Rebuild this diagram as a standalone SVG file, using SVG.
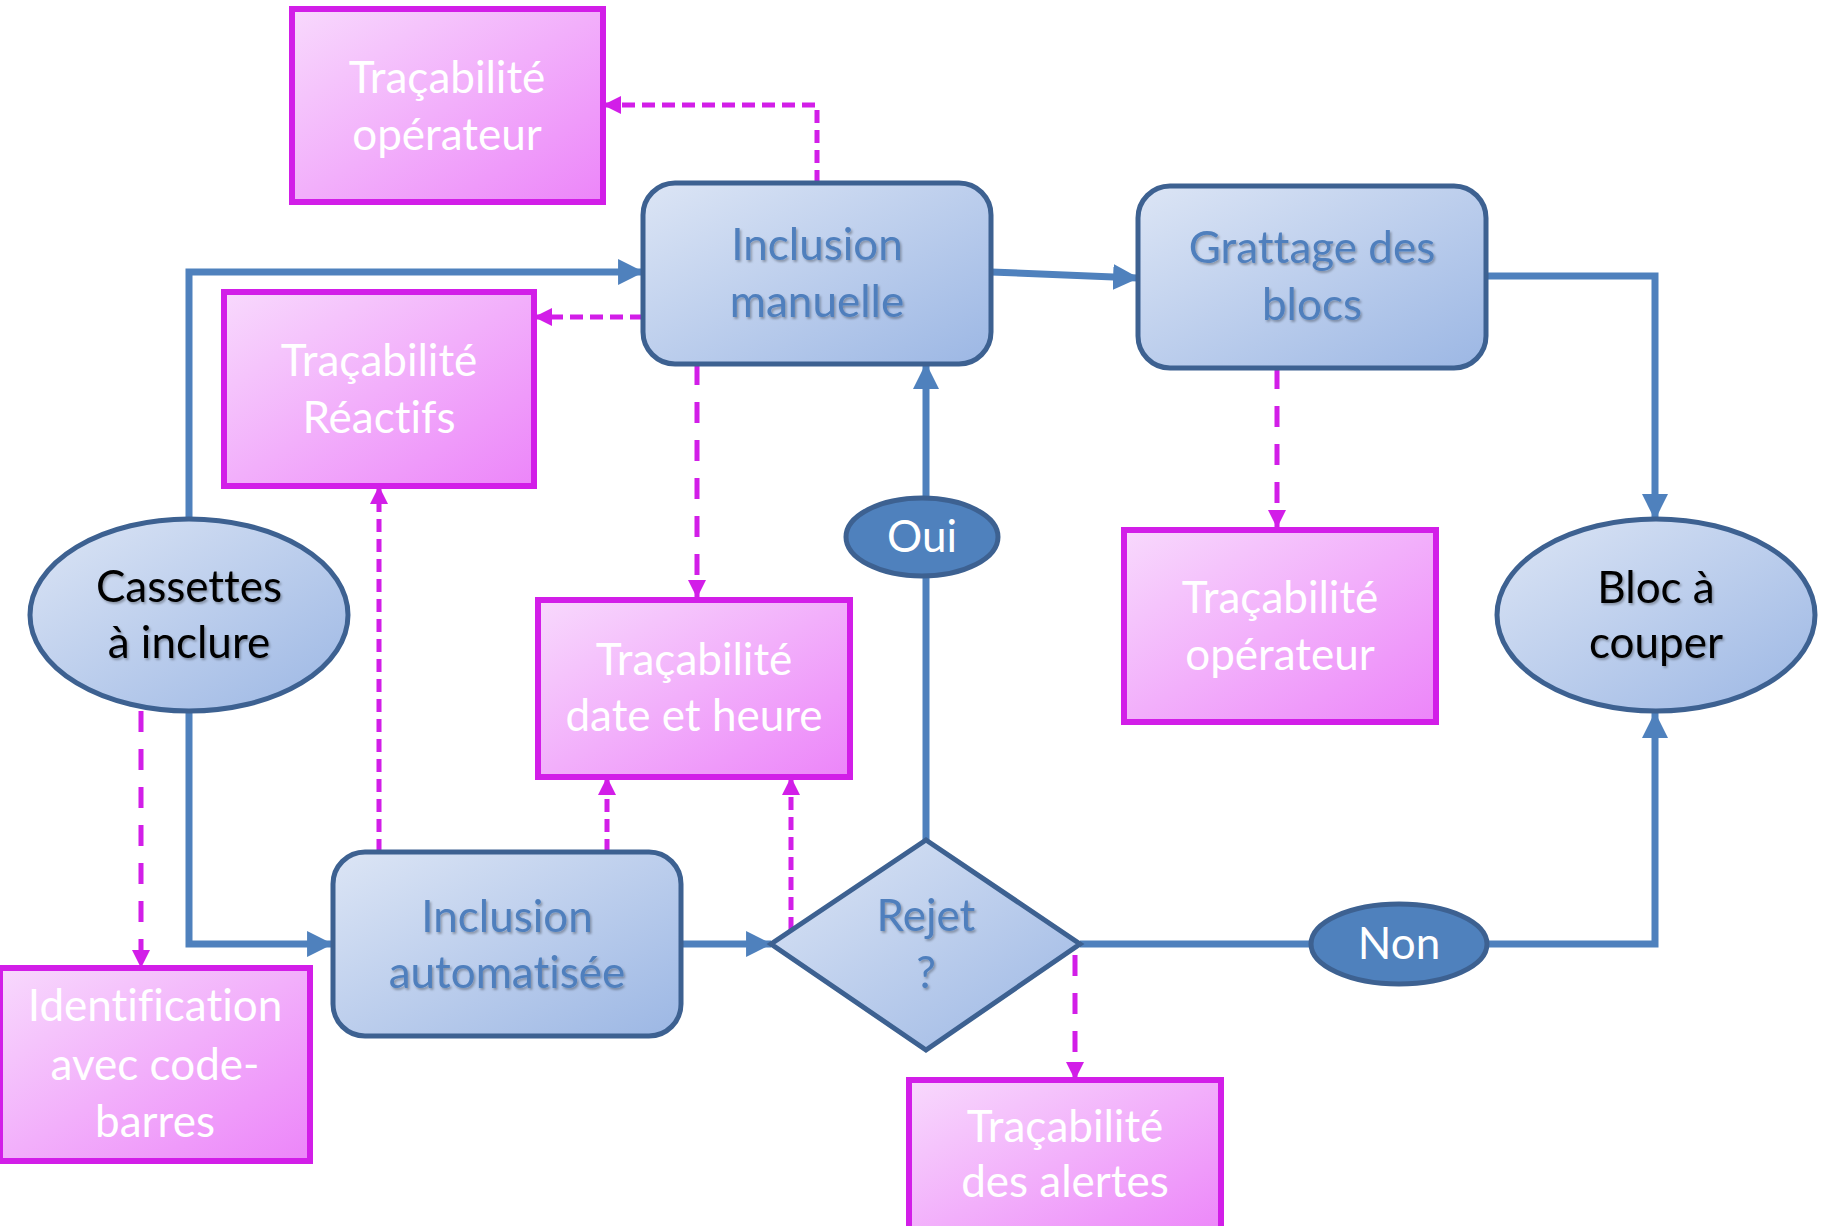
<svg xmlns="http://www.w3.org/2000/svg" width="1825" height="1226" viewBox="0 0 1825 1226">
<defs>
  <linearGradient id="gBlue" x1="0" y1="0" x2="1" y2="1">
    <stop offset="0" stop-color="#dce5f5"/>
    <stop offset="1" stop-color="#9cb7e4"/>
  </linearGradient>
  <linearGradient id="gPink" x1="0" y1="0" x2="1" y2="1">
    <stop offset="0" stop-color="#f8d9fd"/>
    <stop offset="1" stop-color="#ec85f9"/>
  </linearGradient>
  <filter id="tsh" x="-10%" y="-20%" width="120%" height="150%">
    <feDropShadow dx="1.5" dy="2" stdDeviation="1.2" flood-color="#000" flood-opacity="0.3"/>
  </filter>
  <marker id="aBlue" markerUnits="userSpaceOnUse" markerWidth="26" markerHeight="26" refX="23" refY="12" orient="auto" viewBox="0 0 24 24">
    <path d="M0,0 L24,12 L0,24 Z" fill="#4f81bd"/>
  </marker>
  <marker id="aPink" markerUnits="userSpaceOnUse" markerWidth="18" markerHeight="18" refX="16" refY="8" orient="auto" viewBox="0 0 16 16">
    <path d="M0,0 L16,8 L0,16 Z" fill="#d21ee8"/>
  </marker>
</defs>
<style>
  .blue { fill: url(#gBlue); stroke: #3d6191; stroke-width: 5; }
  .pink { fill: url(#gPink); stroke: #d21ee8; stroke-width: 6; }
  .lbl { fill: #4f81bd; stroke: #3d6191; stroke-width: 5; }
  .flow { fill: none; stroke: #4f81bd; stroke-width: 7; marker-end: url(#aBlue); }
  .dash { fill: none; stroke: #d21ee8; stroke-width: 5; stroke-dasharray: 13 7; marker-end: url(#aPink); }
  .ldash { fill: none; stroke: #d21ee8; stroke-width: 5; stroke-dasharray: 21 17; marker-end: url(#aPink); }
  text { font-family: Lato, "Open Sans", "Liberation Sans", sans-serif; font-size: 44px; text-anchor: middle; font-variant-ligatures: none; }
  .tw { fill: #ffffff; }
  .tb { fill: #4f7fbd; filter: url(#tsh); }
  .tk { fill: #000000; filter: url(#tsh); }
</style>

<g id="connectors">
  <path class="flow" d="M189,519 V272 H643"/>
  <path class="flow" d="M991,272 L1138,278"/>
  <path class="flow" d="M1486,276 H1655 V519"/>
  <path class="flow" d="M189,711 V944 H332"/>
  <path class="flow" d="M681,944 H771"/>
  <path class="flow" d="M926,840 V364"/>
  <path class="flow" d="M1080,944 H1655 V713"/>
  <path class="dash" d="M817,183 V105 H603"/>
  <path class="dash" d="M643,317 H534"/>
  <path class="ldash" d="M697,364 V598"/>
  <path class="dash" d="M379,852 V486"/>
  <path class="dash" d="M607,852 V777"/>
  <path class="dash" d="M791,930 V777"/>
  <path class="ldash" d="M1277,368 V528"/>
  <path class="ldash" d="M141,711 V968"/>
  <path class="ldash" d="M1075,955 V1080"/>
</g>

<g id="trac-operateur-1">
  <rect class="pink" x="292" y="9" width="311" height="193"/>
  <text class="tw" x="447" y="93">Traçabilité</text>
  <text class="tw" x="447" y="150">opérateur</text>
</g>
<g id="trac-reactifs">
  <rect class="pink" x="224" y="292" width="310" height="194"/>
  <text class="tw" x="379" y="376">Traçabilité</text>
  <text class="tw" x="379" y="433">Réactifs</text>
</g>
<g id="inclusion-manuelle">
  <rect class="blue" x="643" y="183" width="348" height="181" rx="32" ry="32"/>
  <text class="tb" x="817" y="260">Inclusion</text>
  <text class="tb" x="817" y="317">manuelle</text>
</g>
<g id="grattage">
  <rect class="blue" x="1138" y="186" width="348" height="182" rx="32" ry="32"/>
  <text class="tb" x="1312" y="263">Grattage des</text>
  <text class="tb" x="1312" y="320">blocs</text>
</g>
<g id="trac-date">
  <rect class="pink" x="538" y="600" width="312" height="177"/>
  <text class="tw" x="694" y="675">Traçabilité</text>
  <text class="tw" x="694" y="731">date et heure</text>
</g>
<g id="trac-operateur-2">
  <rect class="pink" x="1124" y="530" width="312" height="192"/>
  <text class="tw" x="1280" y="613">Traçabilité</text>
  <text class="tw" x="1280" y="670">opérateur</text>
</g>
<g id="cassettes">
  <ellipse class="blue" cx="189" cy="615" rx="159" ry="96"/>
  <text class="tk" x="189" y="602">Cassettes</text>
  <text class="tk" x="189" y="658">à inclure</text>
</g>
<g id="bloc-a-couper">
  <ellipse class="blue" cx="1656" cy="615" rx="159" ry="96"/>
  <text class="tk" x="1656" y="603">Bloc à</text>
  <text class="tk" x="1656" y="658">couper</text>
</g>
<g id="oui">
  <ellipse class="lbl" cx="922" cy="537" rx="76" ry="39"/>
  <text class="tw" x="922" y="552">Oui</text>
</g>
<g id="inclusion-automatisee">
  <rect class="blue" x="333" y="852" width="348" height="184" rx="32" ry="32"/>
  <text class="tb" x="507" y="932">Inclusion</text>
  <text class="tb" x="507" y="988">automatisée</text>
</g>
<g id="rejet">
  <path class="blue" d="M926,840 L1080,944 L926,1050 L771,944 Z" stroke-linejoin="miter"/>
  <text class="tb" x="926" y="931">Rejet</text>
  <text class="tb" x="926" y="988">?</text>
</g>
<g id="non">
  <ellipse class="lbl" cx="1399" cy="944" rx="88" ry="40"/>
  <text class="tw" x="1399" y="959">Non</text>
</g>
<g id="identification">
  <rect class="pink" x="0" y="968" width="310" height="193"/>
  <text class="tw" x="155" y="1021">Identification</text>
  <text class="tw" x="155" y="1080">avec code-</text>
  <text class="tw" x="155" y="1137">barres</text>
</g>
<g id="trac-alertes">
  <rect class="pink" x="909" y="1080" width="312" height="160"/>
  <text class="tw" x="1065" y="1142">Traçabilité</text>
  <text class="tw" x="1065" y="1197">des alertes</text>
</g>
</svg>
